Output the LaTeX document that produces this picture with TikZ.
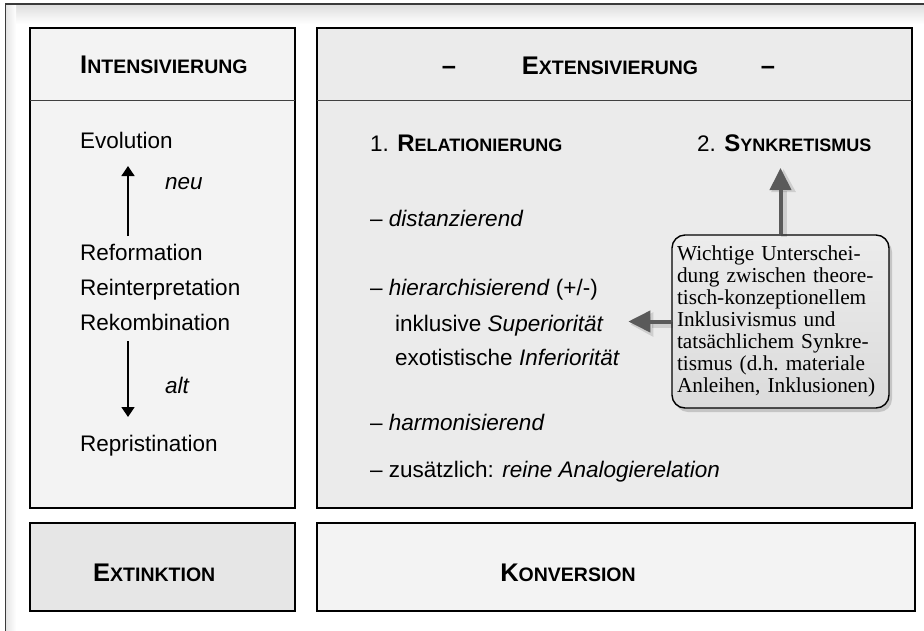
\documentclass[tikz,border=0pt]{standalone}
\usepackage{fontspec}
\setmainfont{Liberation Sans}
\newfontfamily\notefont{Liberation Serif}
\usetikzlibrary{arrows.meta,shadows,calc}

\definecolor{boxA}{HTML}{F3F3F3}
\definecolor{boxB}{HTML}{EBEBEB}
\definecolor{boxC}{HTML}{E6E6E6}
\definecolor{arrowgray}{HTML}{5A5A5A}
\definecolor{framegray}{HTML}{3A3A3A}
\definecolor{notetop}{HTML}{ECECEC}
\definecolor{notebot}{HTML}{DBDBDB}

\newcommand{\hsc}[2]{{\bfseries\fontsize{25.5}{30}\selectfont #1\fontsize{19.5}{30}\selectfont #2}}
\newcommand{\ssc}[2]{{\bfseries\fontsize{24}{28}\selectfont #1\fontsize{18}{28}\selectfont #2}}

\begin{document}
\begin{tikzpicture}[x=1pt,y=-1pt,
  panel/.style={draw=black, line width=1.5pt, inner sep=0pt, outer sep=0pt},
  divider/.style={draw=black!75, line width=0.9pt},
  body/.style={anchor=base west, inner sep=0pt, font=\fontsize{22.5}{26}\selectfont},
  headtxt/.style={anchor=base west, inner sep=0pt},
  dashtxt/.style={anchor=base, inner sep=0pt, font=\bfseries\fontsize{25.5}{30}\selectfont},
  blk/.style={-{Triangle[width=13pt,length=10pt]}, line width=1.4pt},
  garrow/.style={-{Triangle[width=21pt,length=22pt]}, line width=4pt, draw=arrowgray, fill=arrowgray},
  gshadow/.style={-{Triangle[width=23pt,length=23pt]}, line width=6pt, draw=black, opacity=0.12},
  notebox/.style={draw=black, line width=1.4pt, rounded corners=13pt,
    top color=notetop, bottom color=notebot,
    drop shadow={shadow xshift=3pt, shadow yshift=-4pt, opacity=0.35},
    minimum width=217pt, minimum height=173pt, inner xsep=5pt, inner ysep=0pt,
    text width=207pt, align=left,
    font=\notefont\fontsize{21.3}{22}\selectfont}
]
\useasboundingbox (0,0) rectangle (924,630);

% outer frame
\shade[top color=black!13, bottom color=white] (6,5) rectangle (924,24);
\shade[left color=black!10, right color=white] (6,5) rectangle (16,630);
\draw[framegray, line width=1.3pt] (5.5,640) -- (5.5,4) -- (935,4);

% panels
\node[panel, fill=boxA, minimum width=265pt, minimum height=480pt] (lpanel) at (162.5,268) {};
\node[panel, fill=boxB, minimum width=595pt, minimum height=480pt] (rpanel) at (614.5,268) {};
\node[panel, fill=boxC, minimum width=265pt, minimum height=88pt] (extbox) at (162.5,567) {};
\node[panel, fill=boxA, minimum width=598pt, minimum height=88pt] (konbox) at (616,567) {};

\draw[divider] ($(lpanel.north west)+(0,72)$) -- ($(lpanel.north east)+(0,72)$);
\draw[divider] ($(rpanel.north west)+(0,72)$) -- ($(rpanel.north east)+(0,72)$);

% headers
\node[headtxt] (inth) at (80,73) {\hsc{I}{NTENSIVIERUNG}};
\node[headtxt, anchor=base] (exth) at (610,74) {\hsc{E}{XTENSIVIERUNG}};
\node[dashtxt] (dashl) at (449,74) {–};
\node[dashtxt] (dashr) at (768,74) {–};
\node[headtxt] (extt) at (93,581) {\hsc{E}{XTINKTION}};
\node[headtxt, anchor=base] (kont) at (568,581) {\hsc{K}{ONVERSION}};

% left column
\node[body] (evo) at (80,148) {Evolution};
\node[body] (reform) at (80,260) {Reformation};
\node[body] (reint) at (80,295) {Reinterpretation};
\node[body] (rekomb) at (80,330) {Rekombination};
\node[body] (repri) at (80,451) {Repristination};
\node[body] (neu) at (165,189) {\textit{neu}};
\node[body] (alt) at (165,393) {\textit{alt}};

\draw[blk] ([xshift=48pt,yshift=24pt]reform.base west) -- ([xshift=48pt,yshift=-18pt]evo.base west);
\draw[blk] ([xshift=48pt,yshift=-11pt]rekomb.base west) -- ([xshift=48pt,yshift=34pt]repri.base west);

% right column
\node[body] (rel) at (370,151) {1. \ssc{R}{ELATIONIERUNG}};
\node[body] (synk) at (697,151) {2. \ssc{S}{YNKRETISMUS}};
\node[body] (dist) at (370,226) {– \textit{distanzierend}};
\node[body] (hier) at (370,295) {– \textit{hierarchisierend} (+/-)};
\node[body] (inkl) at (395,331) {inklusive \textit{Superiorität}};
\node[body] (exo) at (395,365) {exotistische \textit{Inferiorität}};
\node[body] (harm) at (370,430) {– \textit{harmonisierend}};
\node[body] (zus) at (370,477) {– zusätzlich: \textit{reine Analogierelation}};

% note
\node[notebox] (note) at (780.5,321.5) {Wichtige Unterschei-\\dung zwischen theore-\\tisch-konzeptionellem\\Inklusivismus und\\tatsächlichem Synkre-\\tismus (d.h.\ materiale\\Anleihen, Inklusionen)};

% gray arrows
\draw[gshadow, shorten >=15pt] ([xshift=3pt,yshift=-3pt]note.north) -- ([xshift=3pt,yshift=-3pt]note.north |- synk.base);
\draw[garrow, shorten >=17pt] (note.north) -- (note.north |- synk.base);
\draw[gshadow] ([xshift=2pt,yshift=-3pt]note.west) -- ([xshift=-41pt,yshift=-3pt]note.west);
\draw[garrow] (note.west) -- ([xshift=-43pt]note.west);
\end{tikzpicture}
\end{document}
